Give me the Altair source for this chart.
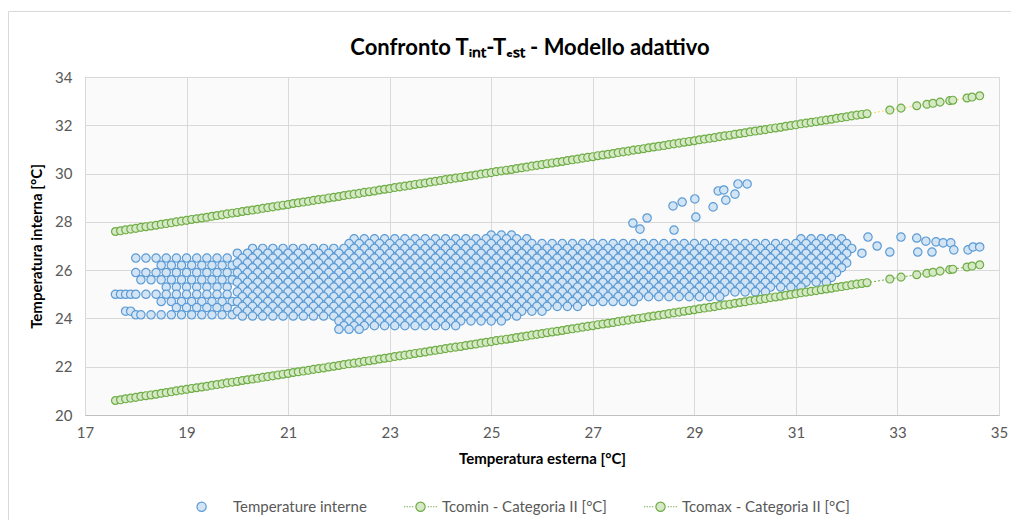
import altair as alt
import pandas as pd

TITLE = "Confronto Tᵢₙₜ-Tₑₛₜ - Modello adattivo"
X_TITLE = "Temperatura esterna [°C]"
Y_TITLE = "Temperatura interna [°C]"
SERIES = ["Temperature interne", "Tcomin - Categoria II [°C]", "Tcomax - Categoria II [°C]"]
X_TICKS = [17, 19, 21, 23, 25, 27, 29, 31, 33, 35]
Y_TICKS = [20, 22, 24, 26, 28, 30, 32, 34]

# comfort band points (outdoor temperature, lower / upper limits)
comf_x = ("17.6 17.7 17.8 17.9 18.0 18.1 18.2 18.3 18.4 18.5 18.6 18.7 18.8 18.9 19.0 19.1 19.2 19.3 19.4 19.5 "
          "19.6 19.7 19.8 19.9 20.0 20.1 20.2 20.3 20.4 20.5 20.6 20.7 20.8 20.9 21.0 21.1 21.2 21.3 21.4 21.5 "
          "21.6 21.7 21.8 21.9 22.0 22.1 22.2 22.3 22.4 22.5 22.6 22.7 22.8 22.9 23.0 23.1 23.2 23.3 23.4 23.5 "
          "23.6 23.7 23.8 23.9 24.0 24.1 24.2 24.3 24.4 24.5 24.6 24.7 24.8 24.9 25.0 25.1 25.2 25.3 25.4 25.5 "
          "25.6 25.7 25.8 25.9 26.0 26.1 26.2 26.3 26.4 26.5 26.6 26.7 26.8 26.9 27.0 27.1 27.2 27.3 27.4 27.5 "
          "27.6 27.7 27.8 27.9 28.0 28.1 28.2 28.3 28.4 28.5 28.6 28.7 28.8 28.9 29.0 29.1 29.2 29.3 29.4 29.5 "
          "29.6 29.7 29.8 29.9 30.0 30.1 30.2 30.3 30.4 30.5 30.6 30.7 30.8 30.9 31.0 31.1 31.2 31.3 31.4 31.5 "
          "31.6 31.7 31.8 31.9 32.0 32.1 32.2 32.3 32.4 "
          "32.85 33.07 33.38 33.58 33.70 33.84 34.03 34.09 34.37 34.47 34.62")
tcomin_y = ("20.60 20.63 20.67 20.70 20.73 20.77 20.80 20.83 20.86 20.90 "
            "20.93 20.96 21.00 21.03 21.06 21.10 21.13 21.16 21.19 21.23 "
            "21.26 21.29 21.33 21.36 21.39 21.43 21.46 21.49 21.52 21.56 "
            "21.59 21.62 21.66 21.69 21.72 21.76 21.79 21.82 21.85 21.89 "
            "21.92 21.95 21.99 22.02 22.05 22.09 22.12 22.15 22.18 22.22 "
            "22.25 22.28 22.32 22.35 22.38 22.42 22.45 22.48 22.51 22.55 "
            "22.58 22.61 22.65 22.68 22.71 22.75 22.78 22.81 22.84 22.88 "
            "22.91 22.94 22.98 23.01 23.04 23.08 23.11 23.14 23.17 23.21 "
            "23.24 23.27 23.31 23.34 23.37 23.41 23.44 23.47 23.50 23.54 "
            "23.57 23.60 23.64 23.67 23.70 23.74 23.77 23.80 23.83 23.87 "
            "23.90 23.93 23.97 24.00 24.03 24.07 24.10 24.13 24.16 24.20 "
            "24.23 24.26 24.30 24.33 24.36 24.40 24.43 24.46 24.49 24.53 "
            "24.56 24.59 24.63 24.66 24.69 24.73 24.76 24.79 24.82 24.86 "
            "24.89 24.92 24.96 24.99 25.02 25.06 25.09 25.12 25.15 25.19 "
            "25.22 25.25 25.29 25.32 25.35 25.39 25.42 25.45 25.48 "
            "25.63 25.71 25.81 25.87 25.91 25.96 26.02 26.04 26.13 26.17 26.22")
tcomax_y = ("27.60 27.63 27.67 27.70 27.73 27.77 27.80 27.83 27.86 27.90 "
            "27.93 27.96 28.00 28.03 28.06 28.10 28.13 28.16 28.19 28.23 "
            "28.26 28.29 28.33 28.36 28.39 28.43 28.46 28.49 28.52 28.56 "
            "28.59 28.62 28.66 28.69 28.72 28.76 28.79 28.82 28.85 28.89 "
            "28.92 28.95 28.99 29.02 29.05 29.09 29.12 29.15 29.18 29.22 "
            "29.25 29.28 29.32 29.35 29.38 29.42 29.45 29.48 29.51 29.55 "
            "29.58 29.61 29.65 29.68 29.71 29.75 29.78 29.81 29.84 29.88 "
            "29.91 29.94 29.98 30.01 30.04 30.08 30.11 30.14 30.17 30.21 "
            "30.24 30.27 30.31 30.34 30.37 30.41 30.44 30.47 30.50 30.54 "
            "30.57 30.60 30.64 30.67 30.70 30.74 30.77 30.80 30.83 30.87 "
            "30.90 30.93 30.97 31.00 31.03 31.07 31.10 31.13 31.16 31.20 "
            "31.23 31.26 31.30 31.33 31.36 31.40 31.43 31.46 31.49 31.53 "
            "31.56 31.59 31.63 31.66 31.69 31.73 31.76 31.79 31.82 31.86 "
            "31.89 31.92 31.96 31.99 32.02 32.06 32.09 32.12 32.15 32.19 "
            "32.22 32.25 32.29 32.32 32.35 32.39 32.42 32.45 32.48 "
            "32.63 32.71 32.81 32.87 32.91 32.96 33.02 33.04 33.13 33.17 33.22")

# indoor temperature cloud: rows of readings (indoor value, outdoor values)
tint_row_y = [26.5, 26.2, 25.9, 25.6, 25.3, 25.0, 24.7, 24.45, 24.3, 24.15,
              27.45, 27.3, 27.1, 26.9, 26.7, 26.5, 26.3, 26.1, 25.9, 25.7, 25.5,
              25.3, 25.1, 24.9, 24.7, 24.5, 24.3, 24.1, 23.9, 23.7, 23.55]
tint_row_x = [
    "18.0 18.2 18.4 18.6 18.8 19.0 19.2 19.4 19.6 19.8",
    "18.5 18.7 18.9 19.1 19.3 19.5 19.7 19.9",
    "18.0 18.2 18.4 18.6 18.8 19.0 19.2 19.4 19.6 19.8",
    "18.1 18.3 18.5 18.7 18.9 19.1 19.3 19.5 19.7 19.9",
    "18.6 18.8 19.0 19.2 19.4 19.6 19.8",
    "17.6 17.7 17.8 17.9 18.0 18.2 18.4 18.6 18.8 19.0 19.2 19.4 19.6 19.8",
    "18.5 18.7 18.9 19.1 19.3 19.5 19.7 19.9",
    "18.8 19.0 19.2 19.4 19.6 19.8",
    "17.8 17.9",
    "18.0 18.1 18.3 18.5 18.7 18.9 19.1 19.3 19.5 19.7 19.9",
    "25.0 25.2 25.4",
    "22.3 22.5 22.7 22.9 23.1 23.3 23.5 23.7 23.9 24.1 24.3 24.5 24.7 24.9 25.1 25.3 25.5 25.7 31.1 31.3 31.5 31.7 31.9",
    "22.2 22.4 22.6 22.8 23.0 23.2 23.4 23.6 23.8 24.0 24.2 24.4 24.6 24.8 25.0 25.2 25.4 25.6 25.8 26.0 "
    "26.2 26.4 26.6 26.8 27.0 27.2 27.4 27.6 27.8 28.0 28.2 28.4 28.6 28.8 29.0 29.2 29.4 29.6 29.8 30.0 "
    "30.2 30.4 30.6 30.8 31.0 31.2 31.4 31.6 31.8 32.0",
    "20.3 20.5 20.7 20.9 21.1 21.3 21.5 21.7 21.9 22.1 22.3 22.5 22.7 22.9 23.1 23.3 23.5 23.7 23.9 24.1 "
    "24.3 24.5 24.7 24.9 25.1 25.3 25.5 25.7 25.9 26.1 26.3 26.5 26.7 26.9 27.1 27.3 27.5 27.7 27.9 28.1 "
    "28.3 28.5 28.7 28.9 29.1 29.3 29.5 29.7 29.9 30.1 30.3 30.5 30.7 30.9 31.1 31.3 31.5 31.7 31.9 32.1",
    "20.0 20.2 20.4 20.6 20.8 21.0 21.2 21.4 21.6 21.8 22.0 22.2 22.4 22.6 22.8 23.0 23.2 23.4 23.6 23.8 "
    "24.0 24.2 24.4 24.6 24.8 25.0 25.2 25.4 25.6 25.8 26.0 26.2 26.4 26.6 26.8 27.0 27.2 27.4 27.6 27.8 "
    "28.0 28.2 28.4 28.6 28.8 29.0 29.2 29.4 29.6 29.8 30.0 30.2 30.4 30.6 30.8 31.0 31.2 31.4 31.6 31.8 32.0",
    "20.1 20.3 20.5 20.7 20.9 21.1 21.3 21.5 21.7 21.9 22.1 22.3 22.5 22.7 22.9 23.1 23.3 23.5 23.7 23.9 "
    "24.1 24.3 24.5 24.7 24.9 25.1 25.3 25.5 25.7 25.9 26.1 26.3 26.5 26.7 26.9 27.1 27.3 27.5 27.7 27.9 "
    "28.1 28.3 28.5 28.7 28.9 29.1 29.3 29.5 29.7 29.9 30.1 30.3 30.5 30.7 30.9 31.1 31.3 31.5 31.7 31.9",
    "20.0 20.2 20.4 20.6 20.8 21.0 21.2 21.4 21.6 21.8 22.0 22.2 22.4 22.6 22.8 23.0 23.2 23.4 23.6 23.8 "
    "24.0 24.2 24.4 24.6 24.8 25.0 25.2 25.4 25.6 25.8 26.0 26.2 26.4 26.6 26.8 27.0 27.2 27.4 27.6 27.8 "
    "28.0 28.2 28.4 28.6 28.8 29.0 29.2 29.4 29.6 29.8 30.0 30.2 30.4 30.6 30.8 31.0 31.2 31.4 31.6 31.8 32.0",
    "20.1 20.3 20.5 20.7 20.9 21.1 21.3 21.5 21.7 21.9 22.1 22.3 22.5 22.7 22.9 23.1 23.3 23.5 23.7 23.9 "
    "24.1 24.3 24.5 24.7 24.9 25.1 25.3 25.5 25.7 25.9 26.1 26.3 26.5 26.7 26.9 27.1 27.3 27.5 27.7 27.9 "
    "28.1 28.3 28.5 28.7 28.9 29.1 29.3 29.5 29.7 29.9 30.1 30.3 30.5 30.7 30.9 31.1 31.3 31.5 31.7 31.9",
    "20.0 20.2 20.4 20.6 20.8 21.0 21.2 21.4 21.6 21.8 22.0 22.2 22.4 22.6 22.8 23.0 23.2 23.4 23.6 23.8 "
    "24.0 24.2 24.4 24.6 24.8 25.0 25.2 25.4 25.6 25.8 26.0 26.2 26.4 26.6 26.8 27.0 27.2 27.4 27.6 27.8 "
    "28.0 28.2 28.4 28.6 28.8 29.0 29.2 29.4 29.6 29.8 30.0 30.2 30.4 30.6 30.8 31.0 31.2 31.4 31.6 31.8",
    "20.1 20.3 20.5 20.7 20.9 21.1 21.3 21.5 21.7 21.9 22.1 22.3 22.5 22.7 22.9 23.1 23.3 23.5 23.7 23.9 "
    "24.1 24.3 24.5 24.7 24.9 25.1 25.3 25.5 25.7 25.9 26.1 26.3 26.5 26.7 26.9 27.1 27.3 27.5 27.7 27.9 "
    "28.1 28.3 28.5 28.7 28.9 29.1 29.3 29.5 29.7 29.9 30.1 30.3 30.5 30.7 30.9 31.1 31.3 31.5 31.7",
    "20.0 20.2 20.4 20.6 20.8 21.0 21.2 21.4 21.6 21.8 22.0 22.2 22.4 22.6 22.8 23.0 23.2 23.4 23.6 23.8 "
    "24.0 24.2 24.4 24.6 24.8 25.0 25.2 25.4 25.6 25.8 26.0 26.2 26.4 26.6 26.8 27.0 27.2 27.4 27.6 27.8 "
    "28.0 28.2 28.4 28.6 28.8 29.0 29.2 29.4 29.6 29.8 30.0 30.2 30.4 30.6 30.8 31.0 31.2 31.4 31.6",
    "20.1 20.3 20.5 20.7 20.9 21.1 21.3 21.5 21.7 21.9 22.1 22.3 22.5 22.7 22.9 23.1 23.3 23.5 23.7 23.9 "
    "24.1 24.3 24.5 24.7 24.9 25.1 25.3 25.5 25.7 25.9 26.1 26.3 26.5 26.7 26.9 27.1 27.3 27.5 27.7 27.9 "
    "28.1 28.3 28.5 28.7 28.9 29.1 29.3 29.5 29.7 29.9 30.1 30.3 30.5 30.7 30.9 31.1",
    "20.0 20.2 20.4 20.6 20.8 21.0 21.2 21.4 21.6 21.8 22.0 22.2 22.4 22.6 22.8 23.0 23.2 23.4 23.6 23.8 "
    "24.0 24.2 24.4 24.6 24.8 25.0 25.2 25.4 25.6 25.8 26.0 26.2 26.4 26.6 26.8 27.0 27.2 27.4 27.6 27.8 "
    "28.0 28.2 28.4 28.6 28.8 29.0 29.2 29.4 29.6 29.8 30.0 30.2 30.4",
    "20.1 20.3 20.5 20.7 20.9 21.1 21.3 21.5 21.7 21.9 22.1 22.3 22.5 22.7 22.9 23.1 23.3 23.5 23.7 23.9 "
    "24.1 24.3 24.5 24.7 24.9 25.1 25.3 25.5 25.7 25.9 26.1 26.3 26.5 26.7 26.9 27.1 27.3 27.5 27.7 27.9 "
    "28.1 28.3 28.5 28.7 28.9 29.1 29.3 29.5",
    "20.0 20.2 20.4 20.6 20.8 21.0 21.2 21.4 21.6 21.8 22.0 22.2 22.4 22.6 22.8 23.0 23.2 23.4 23.6 23.8 "
    "24.0 24.2 24.4 24.6 24.8 25.0 25.2 25.4 25.6 25.8 26.0 26.2 26.4 26.6 26.8 27.0 27.2 27.4 27.6 27.8",
    "20.1 20.3 20.5 20.7 20.9 21.1 21.3 21.5 21.7 21.9 22.1 22.3 22.5 22.7 22.9 23.1 23.3 23.5 23.7 23.9 "
    "24.1 24.3 24.5 24.7 24.9 25.1 25.3 25.5 25.7 25.9 26.1 26.3 26.5 26.7",
    "20.0 20.2 20.4 20.6 20.8 21.0 21.2 21.4 21.6 21.8 22.0 22.2 22.4 22.6 22.8 23.0 23.2 23.4 23.6 23.8 "
    "24.0 24.2 24.4 24.6 24.8 25.0 25.2 25.4 25.6 25.8 26.0",
    "20.1 20.3 20.5 20.7 20.9 21.1 21.3 21.5 21.7 21.9 22.1 22.3 22.5 22.7 22.9 23.1 23.3 23.5 23.7 23.9 "
    "24.1 24.3 24.5 24.7 24.9 25.1 25.3 25.5",
    "22.0 22.2 22.4 22.6 22.8 23.0 23.2 23.4 23.6 23.8 24.0 24.2 24.4 24.6 24.8 25.0 25.2",
    "22.1 22.3 22.5 22.7 22.9 23.1 23.3 23.5 23.7 23.9 24.1 24.3",
    "22.0 22.2 22.4",
]
# isolated readings (warm spells and hottest outdoor hours)
tint_iso_x = [27.79, 28.07, 27.93, 28.58, 28.76, 29.01, 29.03, 28.60, 29.37, 29.47, 29.58, 29.62, 29.80, 29.86, 30.04,
              32.30, 32.42, 32.60, 32.85, 33.07, 33.38, 33.40, 33.56, 33.68, 33.76, 33.90, 34.05, 34.11, 34.39, 34.49, 34.62]
tint_iso_y = [27.95, 28.16, 27.70, 28.66, 28.82, 28.95, 28.20, 27.66, 28.62, 29.28, 29.32, 28.90, 29.15, 29.57, 29.57,
              26.70, 27.37, 27.00, 26.75, 27.37, 27.33, 26.75, 27.20, 26.75, 27.17, 27.13, 27.13, 26.84, 26.84, 26.96, 26.96]

STROKES = ["#5b9bd5", "#70ad47", "#70ad47"]
FILLS = ["#d3e4f4", "#d5e9c6", "#d5e9c6"]
LINE_COLORS = ["#70ad47", "#ffd966"]

# ---- tables ----
tx, ty = [], []
for yv, xs_ in zip(tint_row_y, tint_row_x):
    for v in xs_.split():
        tx.append(float(v))
        ty.append(yv)
tx += tint_iso_x
ty += tint_iso_y
df_int = pd.DataFrame({"x": tx, "y": ty, "s": SERIES[0]})

cx = [float(v) for v in comf_x.split()]
cmin = [float(v) for v in tcomin_y.split()]
cmax = [float(v) for v in tcomax_y.split()]
df_comf = pd.concat([
    pd.DataFrame({"x": cx, "y": cmin, "s": SERIES[1]}),
    pd.DataFrame({"x": cx, "y": cmax, "s": SERIES[2]}),
], ignore_index=True)

# legend-only rows (no position -> no mark drawn)
df_leg = pd.DataFrame({"x": [None] * 3, "y": [None] * 3, "s": SERIES})

xs = alt.Scale(domain=[17, 35], nice=False, zero=False)
ys = alt.Scale(domain=[20, 34], nice=False, zero=False)

BLUE_SYM = "M-0.88,0A0.28,0.28,0,1,1,-0.32,0A0.28,0.28,0,1,1,-0.88,0Z"
GREEN_SYM = ("M-1,0L-0.92,0M-0.84,0L-0.76,0M-0.68,0L-0.6,0M-0.52,0L-0.44,0"
             "M0.44,0L0.52,0M0.6,0L0.68,0M0.76,0L0.84,0M0.92,0L1,0"
             "M-0.28,0A0.28,0.28,0,1,1,0.28,0A0.28,0.28,0,1,1,-0.28,0Z")

legend = alt.Legend(
    title=None, orient="none", legendX=109, legendY=412, direction="horizontal", columns=3,
    symbolSize=1089, symbolStrokeWidth=1.2, labelFont="Lato", labelFontSize=15, labelColor="#595959",
    labelLimit=400, columnPadding=34, labelOffset=4, padding=0,
)

stroke_enc = alt.Stroke("s:N", scale=alt.Scale(domain=SERIES, range=STROKES), legend=legend)
fill_enc = alt.Fill("s:N", scale=alt.Scale(domain=SERIES, range=FILLS), legend=legend)
shape_enc = alt.Shape("s:N", scale=alt.Scale(domain=SERIES, range=[BLUE_SYM, GREEN_SYM, GREEN_SYM]), legend=legend)

x_axis = alt.Axis(values=X_TICKS, grid=True, ticks=False, labelFlush=False, labelPadding=10,
                  domainColor="#bfbfbf", title=X_TITLE, titlePadding=11)
y_axis = alt.Axis(values=Y_TICKS, grid=True, ticks=False, domain=False, labelPadding=13,
                  title=Y_TITLE, titlePadding=10)

frame = alt.Chart(pd.DataFrame({"a": [0]})).mark_rect(
    fillOpacity=0, stroke="#d9d9d9", strokeWidth=1
).encode(x=alt.value(-76.5), x2=alt.value(940), y=alt.value(-65.5), y2=alt.value(470))

pts_int = alt.Chart(df_int).mark_point(shape="circle", size=70, strokeWidth=1.2, opacity=1, fillOpacity=1).encode(
    x=alt.X("x:Q", scale=xs, axis=x_axis),
    y=alt.Y("y:Q", scale=ys, axis=y_axis),
    stroke=stroke_enc, fill=fill_enc,
)

lines = alt.Chart(df_comf).mark_line(strokeWidth=1, strokeDash=[2, 2]).encode(
    x="x:Q", y="y:Q",
    color=alt.Color("s:N", scale=alt.Scale(domain=SERIES[1:], range=LINE_COLORS), legend=None),
)

pts_comf = alt.Chart(df_comf).mark_point(shape="circle", size=62, strokeWidth=1.2, opacity=1, fillOpacity=1).encode(
    x="x:Q", y="y:Q", stroke=stroke_enc, fill=fill_enc,
)

leg_layer = alt.Chart(df_leg).mark_point(strokeWidth=1.2, opacity=1, fillOpacity=1).encode(
    x="x:Q", y="y:Q", stroke=stroke_enc, fill=fill_enc, shape=shape_enc,
)

chart = alt.layer(frame, pts_int, lines, pts_comf, leg_layer).properties(
    width=914, height=338,
    background="white",
    title=alt.TitleParams(TITLE, font="Lato", fontSize=22, fontWeight="bold", color="#000000",
                          anchor="middle", offset=-49, dx=-12),
    autosize=alt.AutoSizeParams(type="none"),
    padding={"left": 77, "top": 69, "right": 12, "bottom": 105},
).configure_view(
    stroke="#d9d9d9", fill="#fafafa"
).configure_axis(
    gridColor="#d9d9d9", gridWidth=1,
    labelFont="Lato", labelFontSize=15, labelColor="#595959",
    titleFont="Lato", titleFontSize=15, titleFontWeight="bold", titleColor="#000000",
)

chart.save("out.html", embed_options={"renderer": "svg", "actions": False})
